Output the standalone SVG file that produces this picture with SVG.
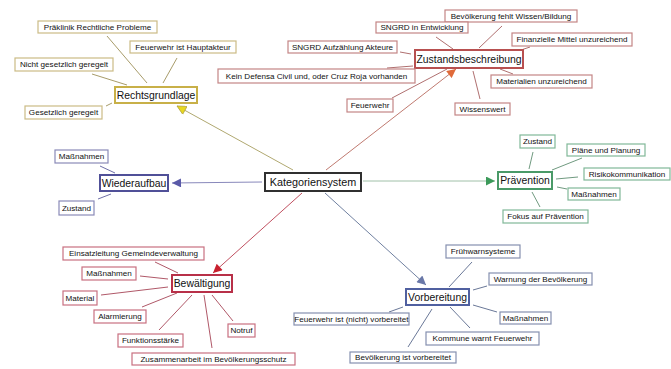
<svg xmlns="http://www.w3.org/2000/svg" width="671" height="369" viewBox="0 0 671 369">
<defs>
<linearGradient id="topband" x1="0" y1="0" x2="0" y2="1"><stop offset="0" stop-color="#a8a8a8"/><stop offset="1" stop-color="#c8c8c8"/></linearGradient>
<marker id="mY" viewBox="0 0 10 10" refX="10" refY="5" markerWidth="11" markerHeight="9" markerUnits="userSpaceOnUse" orient="auto"><path d="M0,0 L10,5 L0,10 Z" fill="#e8d820" stroke="#b0a040" stroke-width="0.8"/></marker>
<marker id="mO" viewBox="0 0 10 10" refX="10" refY="5" markerWidth="11" markerHeight="9" markerUnits="userSpaceOnUse" orient="auto"><path d="M0,0 L10,5 L0,10 Z" fill="#e06a3a"/></marker>
<marker id="mP" viewBox="0 0 10 10" refX="10" refY="5" markerWidth="11" markerHeight="9" markerUnits="userSpaceOnUse" orient="auto"><path d="M0,0 L10,5 L0,10 Z" fill="#5a5aa8"/></marker>
<marker id="mG" viewBox="0 0 10 10" refX="10" refY="5" markerWidth="11" markerHeight="9" markerUnits="userSpaceOnUse" orient="auto"><path d="M0,0 L10,5 L0,10 Z" fill="#3c9a5a"/></marker>
<marker id="mR" viewBox="0 0 10 10" refX="10" refY="5" markerWidth="11" markerHeight="9" markerUnits="userSpaceOnUse" orient="auto"><path d="M0,0 L10,5 L0,10 Z" fill="#c8202e"/></marker>
<marker id="mB" viewBox="0 0 10 10" refX="10" refY="5" markerWidth="11" markerHeight="9" markerUnits="userSpaceOnUse" orient="auto"><path d="M0,0 L10,5 L0,10 Z" fill="#6a78a8"/></marker>
</defs>
<style>
text{font-family:"Liberation Sans",Arial,sans-serif;fill:#111;text-anchor:middle}
.leaf text{font-size:8.1px}
.main text{font-size:10.4px}
#kategoriensystem text{font-size:10.8px}
rect{fill:#fff}
.leaf rect{stroke-width:1.2}
.main rect{stroke-width:2}
.y rect{stroke:#cbbb85}.y line{stroke:#a89c6a}
.r rect{stroke:#c48585}.r line{stroke:#b07070}
.p rect{stroke:#8a8ab8}.p line{stroke:#7070a8}
.g rect{stroke:#80b898}.g line{stroke:#709a80}
.c rect{stroke:#c87080}.c line{stroke:#b05868}
.b rect{stroke:#8590b0}.b line{stroke:#6a7898}
line{stroke-width:1}
</style>
<rect x="0" y="0" width="671" height="369" fill="#fff"/>
<rect x="0" y="0" width="671" height="4" fill="url(#topband)"/>
<rect x="0" y="4" width="9" height="365" fill="#dadcde"/>

<g id="connectors">
<line x1="293" y1="170" x2="177" y2="106" stroke="#b0a870" stroke-width="1" marker-end="url(#mY)"/>
<line x1="326" y1="170" x2="456" y2="69" stroke="#c07a70" stroke-width="1" marker-end="url(#mO)"/>
<line x1="262" y1="182" x2="172" y2="183" stroke="#8888bb" stroke-width="1" marker-end="url(#mP)"/>
<line x1="363" y1="181" x2="495" y2="181" stroke="#a0c0a8" stroke-width="1.2" marker-end="url(#mG)"/>
<line x1="302" y1="193" x2="213" y2="273" stroke="#c05060" stroke-width="1" marker-end="url(#mR)"/>
<line x1="325" y1="193" x2="426" y2="285" stroke="#7080a0" stroke-width="1" marker-end="url(#mB)"/>
<g class="y">
<line x1="107" y1="36" x2="147" y2="83"/>
<line x1="177" y1="58" x2="163" y2="83"/>
<line x1="92" y1="74" x2="127" y2="85"/>
<line x1="106" y1="106" x2="112" y2="103"/>
</g>
<g class="r">
<line x1="436" y1="37" x2="453" y2="49"/>
<line x1="502" y1="26" x2="479" y2="48"/>
<line x1="530" y1="47" x2="518" y2="51"/>
<line x1="500" y1="69" x2="513" y2="74"/>
<line x1="473" y1="71" x2="480" y2="99"/>
<line x1="400" y1="52" x2="411" y2="54"/>
<line x1="387" y1="68" x2="413" y2="66"/>
<line x1="392" y1="98" x2="447" y2="69"/>
</g>
<g class="p">
<line x1="100" y1="166" x2="115" y2="173"/>
<line x1="98" y1="199" x2="111" y2="194"/>
</g>
<g class="g">
<line x1="533" y1="152" x2="529" y2="169"/>
<line x1="582" y1="158" x2="552" y2="170"/>
<line x1="578" y1="177" x2="556" y2="179"/>
<line x1="557" y1="187" x2="567" y2="189"/>
<line x1="532" y1="192" x2="540" y2="207"/>
</g>
<g class="c">
<line x1="155" y1="262" x2="178" y2="273"/>
<line x1="140" y1="276" x2="168" y2="279"/>
<line x1="101" y1="295" x2="168" y2="287"/>
<line x1="142" y1="307" x2="177" y2="293"/>
<line x1="159" y1="330" x2="192" y2="295"/>
<line x1="212" y1="348" x2="204" y2="295"/>
<line x1="233" y1="321" x2="212" y2="295"/>
</g>
<g class="b">
<line x1="472" y1="262" x2="449" y2="287"/>
<line x1="487" y1="286" x2="473" y2="290"/>
<line x1="473" y1="305" x2="497" y2="312"/>
<line x1="450" y1="307" x2="470" y2="328"/>
<line x1="432" y1="309" x2="408" y2="347"/>
<line x1="389" y1="312" x2="403" y2="307"/>
</g>
</g>

<g id="kategoriensystem" class="main"><rect x="265" y="173" width="96" height="18" style="stroke:#303030"/><text x="313" y="185.8">Kategoriensystem</text></g>

<g id="rechtsgrundlage" class="main"><rect x="115" y="87" width="82" height="16" style="stroke:#c8b048"/><text x="156" y="98.7">Rechtsgrundlage</text></g>
<g id="r1" class="leaf y"><rect x="38" y="21" width="119" height="12"/><text x="97.5" y="29.9">Präklinik Rechtliche Probleme</text></g>
<g id="r2" class="leaf y"><rect x="130" y="41" width="106" height="12"/><text x="183" y="49.9">Feuerwehr ist Hauptakteur</text></g>
<g id="r3" class="leaf y"><rect x="15" y="58" width="98" height="13"/><text x="64" y="67.4">Nicht gesetzlich geregelt</text></g>
<g id="r4" class="leaf y"><rect x="25" y="106" width="77" height="13"/><text x="63.5" y="115.4">Gesetzlich geregelt</text></g>

<g id="zustandsbeschreibung" class="main"><rect x="415" y="50" width="108" height="18" style="stroke:#b85050"/><text x="469" y="62.7">Zustandsbeschreibung</text></g>
<g id="z1" class="leaf r"><rect x="445" y="10" width="132" height="12"/><text x="511" y="18.9">Bevölkerung fehlt Wissen/Bildung</text></g>
<g id="z2" class="leaf r"><rect x="376" y="22" width="92" height="11"/><text x="422" y="30.4">SNGRD in Entwicklung</text></g>
<g id="z3" class="leaf r"><rect x="512" y="33" width="120" height="13"/><text x="572" y="42.4">Finanzielle Mittel unzureichend</text></g>
<g id="z4" class="leaf r"><rect x="288" y="41" width="109" height="12"/><text x="342.5" y="49.9">SNGRD Aufzählung Akteure</text></g>
<g id="z5" class="leaf r"><rect x="218" y="69" width="197" height="14"/><text x="316.5" y="78.9">Kein Defensa Civil und, oder Cruz Roja vorhanden</text></g>
<g id="z6" class="leaf r"><rect x="491" y="75" width="101" height="13"/><text x="541.5" y="84.4">Materialien unzureichend</text></g>
<g id="z7" class="leaf r"><rect x="347" y="99" width="46" height="13"/><text x="370" y="108.4">Feuerwehr</text></g>
<g id="z8" class="leaf r"><rect x="455" y="103" width="55" height="12"/><text x="482.5" y="111.9">Wissenswert</text></g>

<g id="wiederaufbau" class="main"><rect x="100" y="175" width="68" height="16" style="stroke:#505098"/><text x="134" y="186.7">Wiederaufbau</text></g>
<g id="w1" class="leaf p"><rect x="55" y="150" width="53" height="13"/><text x="81.5" y="159.4">Maßnahmen</text></g>
<g id="w2" class="leaf p"><rect x="59" y="201" width="35" height="14"/><text x="76.5" y="210.9">Zustand</text></g>

<g id="praevention" class="main"><rect x="498" y="172" width="54" height="17" style="stroke:#4a9a68"/><text x="525" y="184.2">Prävention</text></g>
<g id="p1" class="leaf g"><rect x="520" y="135" width="35" height="13"/><text x="537.5" y="144.4">Zustand</text></g>
<g id="p2" class="leaf g"><rect x="567" y="144" width="78" height="12"/><text x="606" y="152.9">Pläne und Planung</text></g>
<g id="p3" class="leaf g"><rect x="584" y="168" width="86" height="12"/><text x="627" y="176.9">Risikokommunikation</text></g>
<g id="p4" class="leaf g"><rect x="568" y="188" width="52" height="12"/><text x="594" y="196.9">Maßnahmen</text></g>
<g id="p5" class="leaf g"><rect x="503" y="210" width="85" height="13"/><text x="545.5" y="219.4">Fokus auf Prävention</text></g>

<g id="bewaeltigung" class="main"><rect x="172" y="275" width="60" height="17" style="stroke:#b83048"/><text x="202" y="287.2">Bewältigung</text></g>
<g id="c1" class="leaf c"><rect x="63" y="247" width="141" height="13"/><text x="133.5" y="256.4">Einsatzleitung Gemeindeverwaltung</text></g>
<g id="c2" class="leaf c"><rect x="82" y="267" width="54" height="13"/><text x="109" y="276.4">Maßnahmen</text></g>
<g id="c3" class="leaf c"><rect x="63" y="291" width="34" height="14"/><text x="80" y="300.9">Material</text></g>
<g id="c4" class="leaf c"><rect x="94" y="310" width="52" height="13"/><text x="120" y="319.4">Alarmierung</text></g>
<g id="c5" class="leaf c"><rect x="118" y="334" width="65" height="13"/><text x="150.5" y="343.4">Funktionsstärke</text></g>
<g id="c6" class="leaf c"><rect x="228" y="324" width="27" height="13"/><text x="241.5" y="333.4">Notruf</text></g>
<g id="c7" class="leaf c"><rect x="132" y="353" width="163" height="12"/><text x="213.5" y="361.9">Zusammenarbeit im Bevölkerungsschutz</text></g>

<g id="vorbereitung" class="main"><rect x="406" y="289" width="63" height="16" style="stroke:#5060a0"/><text x="437.5" y="300.7">Vorbereitung</text></g>
<g id="v1" class="leaf b"><rect x="446" y="245" width="74" height="13"/><text x="483" y="254.4">Frühwarnsysteme</text></g>
<g id="v2" class="leaf b"><rect x="489" y="273" width="103" height="12"/><text x="540.5" y="281.9">Warnung der Bevölkerung</text></g>
<g id="v3" class="leaf b"><rect x="500" y="312" width="51" height="12"/><text x="525.5" y="320.9">Maßnahmen</text></g>
<g id="v4" class="leaf b"><rect x="426" y="332" width="113" height="13"/><text x="482.5" y="341.4">Kommune warnt Feuerwehr</text></g>
<g id="v5" class="leaf b"><rect x="350" y="352" width="106" height="11"/><text x="403" y="360.4">Bevölkerung ist vorbereitet</text></g>
<g id="v6" class="leaf b"><rect x="294" y="313" width="115" height="12"/><text x="351.5" y="321.9">Feuerwehr ist (nicht) vorbereitet</text></g>
</svg>
